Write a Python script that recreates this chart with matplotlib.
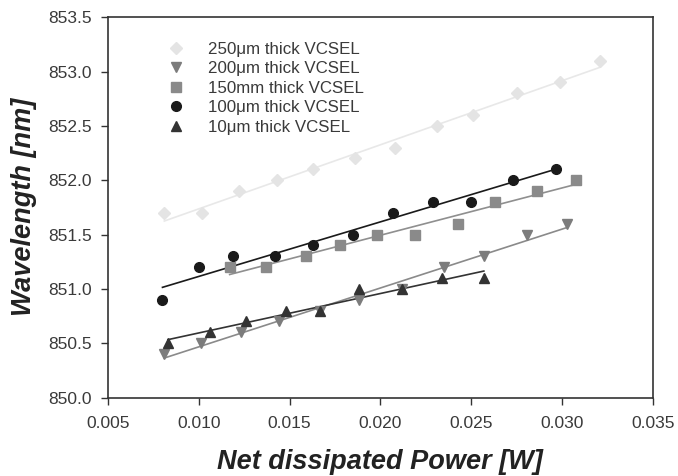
"""Wavelength vs net dissipated power for VCSELs of different thickness."""

import numpy as np
import matplotlib
matplotlib.use("Agg")
import matplotlib.pyplot as plt

# --- data --------------------------------------------------------------
labels = [
    "250\u03bcm thick VCSEL",
    "200\u03bcm thick VCSEL",
    "150mm thick VCSEL",
    "100\u03bcm thick VCSEL",
    "10\u03bcm thick VCSEL",
]

x_250 = [0.0081, 0.0102, 0.0122, 0.0143, 0.0163, 0.0186, 0.0208, 0.0231,
         0.0251, 0.0275, 0.0299, 0.0321]
y_250 = [851.7, 851.7, 851.9, 852.0, 852.1, 852.2, 852.3, 852.5, 852.6,
         852.8, 852.9, 853.1]

x_200 = [0.0081, 0.0101, 0.0123, 0.0144, 0.0167, 0.0188, 0.0212, 0.0235,
         0.0257, 0.0281, 0.0303]
y_200 = [850.4, 850.5, 850.6, 850.7, 850.8, 850.9, 851.0, 851.2, 851.3,
         851.5, 851.6]

x_150 = [0.0117, 0.0137, 0.0159, 0.0178, 0.0198, 0.0219, 0.0243, 0.0263,
         0.0286, 0.0308]
y_150 = [851.2, 851.2, 851.3, 851.4, 851.5, 851.5, 851.6, 851.8, 851.9,
         852.0]

x_100 = [0.0080, 0.0100, 0.0119, 0.0142, 0.0163, 0.0185, 0.0207, 0.0229,
         0.0250, 0.0273, 0.0297]
y_100 = [850.9, 851.2, 851.3, 851.3, 851.4, 851.5, 851.7, 851.8, 851.8,
         852.0, 852.1]

x_10 = [0.0083, 0.0106, 0.0126, 0.0148, 0.0167, 0.0188, 0.0212, 0.0234,
        0.0257]
y_10 = [850.5, 850.6, 850.7, 850.8, 850.8, 851.0, 851.0, 851.1, 851.1]

x_ticks = [0.005, 0.010, 0.015, 0.020, 0.025, 0.030, 0.035]
y_ticks = [850.0, 850.5, 851.0, 851.5, 852.0, 852.5, 853.0, 853.5]

# (marker, marker colour, line colour, marker size)
styles = [
    ("D", "#e4e4e4", "#e8e8e8", 6.5),
    ("v", "#7c7c7c", "#8a8a8a", 7.5),
    ("s", "#8a8a8a", "#8f8f8f", 6.5),
    ("o", "#1a1a1a", "#1a1a1a", 7.0),
    ("^", "#333333", "#333333", 7.5),
]

series = [(x_250, y_250), (x_200, y_200), (x_150, y_150),
          (x_100, y_100), (x_10, y_10)]

plt.rcParams["font.family"] = ["Liberation Sans", "DejaVu Sans"]

fig = plt.figure(figsize=(6.78, 4.76), dpi=100)
ax = fig.add_axes([0.1593, 0.1649, 0.8034, 0.7990])

for (xs, ys), label, (mk, mc, lc, ms) in zip(series, labels, styles):
    xs = np.asarray(xs)
    ys = np.asarray(ys)
    # linear regression line over the range of each series
    slope, icpt = np.polyfit(xs, ys, 1)
    xl = np.array([xs.min(), xs.max()])
    ax.plot(xl, slope * xl + icpt, color=lc, lw=1.2, zorder=2)
    ax.plot(xs, ys, ls="none", marker=mk, ms=ms, color=mc, mec=mc,
            label=label, zorder=3)

ax.set_xlim(0.005, 0.035)
ax.set_ylim(850.0, 853.5)
ax.set_xticks(x_ticks)
ax.set_yticks(y_ticks)
ax.set_xticklabels([f"{v:.3f}" for v in x_ticks])
ax.set_yticklabels([f"{v:.1f}" for v in y_ticks])
ax.tick_params(direction="out", length=5, width=1.0, colors="#333333",
               labelsize=12.5, labelcolor="#3a3a3a")
ax.tick_params(axis="x", pad=8.5)
ax.tick_params(axis="y", pad=6.5)
for sp in ax.spines.values():
    sp.set_color("#333333")
    sp.set_linewidth(1.2)

ax.set_xlabel("Net dissipated Power [W]", fontsize=19.5, fontweight="bold",
              fontstyle="italic", color="#222222", labelpad=13)
ax.set_ylabel("Wavelength [nm]", fontsize=19.5, fontweight="bold",
              fontstyle="italic", color="#222222", labelpad=8)

ax.legend(loc="upper left", bbox_to_anchor=(0.109, 0.936), frameon=False,
          fontsize=12.2, handlelength=1.0, handletextpad=1.4,
          labelspacing=0.27, borderpad=0, borderaxespad=0,
          labelcolor="#3a3a3a")

fig.savefig("out.png", dpi=100)
